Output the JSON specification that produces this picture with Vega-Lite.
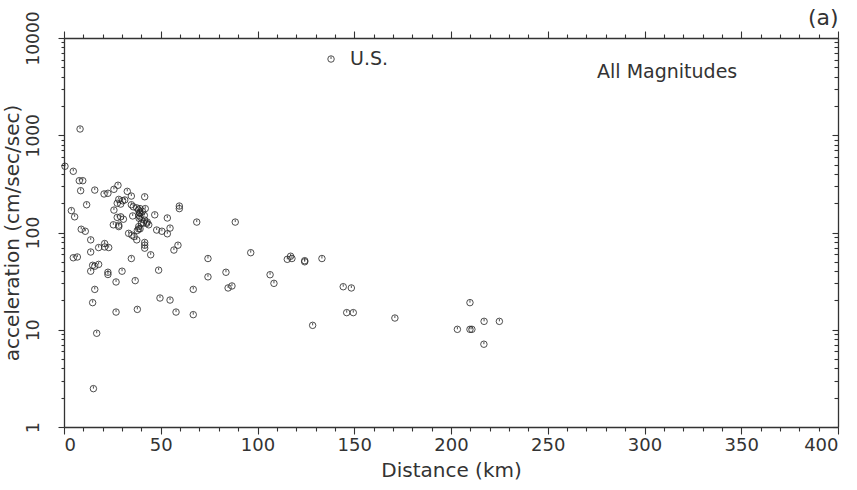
{
  "$schema": "https://vega.github.io/schema/vega-lite/v6.json",
  "width": 774,
  "height": 389,
  "autosize": {"type": "none"},
  "padding": {"left": 64, "top": 38, "right": 19, "bottom": 63},
  "background": "white",
  "config": {
    "view": {"stroke": null},
    "font": "DejaVu Sans",
    "axis": {"domainColor": "#333", "tickColor": "#333", "labelColor": "#333", "titleColor": "#333", "grid": false, "labelFont": "DejaVu Sans", "titleFont": "DejaVu Sans", "titleFontWeight": "normal", "domainWidth": 1.3, "tickWidth": 1.1, "ticks": true}
  },
  "datasets": {
    "pts": [
      {"d":138,"a":6080},{"d":8.3,"a":1160},{"d":0.5,"a":480},{"d":4.8,"a":426},{"d":7.9,"a":341},{"d":9.7,"a":341},
      {"d":8.6,"a":269},{"d":15.9,"a":273},{"d":20.7,"a":249},{"d":22.7,"a":253},{"d":25.8,"a":278},{"d":27.9,"a":306},
      {"d":32.7,"a":265},{"d":34.8,"a":237},{"d":41.7,"a":233},{"d":28.3,"a":219},{"d":30.3,"a":212},{"d":31.4,"a":216},
      {"d":27.5,"a":200},{"d":29.3,"a":196},{"d":34.8,"a":193},{"d":35.8,"a":184},{"d":37.6,"a":179},{"d":39.3,"a":176},
      {"d":39.3,"a":157},{"d":38.7,"a":150},{"d":39.3,"a":145},{"d":42,"a":176},{"d":59.6,"a":187},{"d":59.6,"a":176},
      {"d":3.8,"a":168},{"d":5.5,"a":145},{"d":11.7,"a":193},{"d":25.8,"a":170},{"d":27.5,"a":143},{"d":29.3,"a":145},
      {"d":30.7,"a":137},{"d":35.5,"a":148},{"d":46.9,"a":152},{"d":53.4,"a":141},{"d":68.6,"a":128},{"d":41.7,"a":134},
      {"d":42.7,"a":124},{"d":40,"a":125},{"d":41,"a":125},{"d":28.3,"a":119},{"d":28.3,"a":115},{"d":25.5,"a":120},
      {"d":38.6,"a":109},{"d":38.6,"a":115},{"d":43.8,"a":120},{"d":33.4,"a":98},{"d":35.1,"a":94},{"d":36.2,"a":91},
      {"d":37.9,"a":105},{"d":39.3,"a":109},{"d":47.9,"a":106},{"d":50.6,"a":103},{"d":53.4,"a":97},{"d":54.8,"a":111},
      {"d":37.6,"a":84},{"d":8.9,"a":108},{"d":11,"a":103},{"d":13.8,"a":84},{"d":41.7,"a":79},{"d":41.7,"a":74},
      {"d":41.7,"a":69},{"d":44.8,"a":59},{"d":58.9,"a":74},{"d":56.8,"a":66},{"d":17.9,"a":70},{"d":21,"a":77},
      {"d":21,"a":71},{"d":23.1,"a":70},{"d":13.8,"a":63},{"d":4.8,"a":55},{"d":6.9,"a":56},{"d":34.8,"a":54},
      {"d":74.4,"a":54},{"d":14.8,"a":46},{"d":15.9,"a":45},{"d":17.9,"a":47},{"d":13.8,"a":40},{"d":22.7,"a":39},
      {"d":22.7,"a":37},{"d":30,"a":40},{"d":48.9,"a":41},{"d":74.4,"a":35},{"d":26.9,"a":31},{"d":36.8,"a":32},
      {"d":15.9,"a":26},{"d":66.8,"a":26},{"d":14.8,"a":19},{"d":26.9,"a":15.2},{"d":37.9,"a":16.2},{"d":49.6,"a":21.2},
      {"d":54.8,"a":20.2},{"d":57.9,"a":15.2},{"d":66.8,"a":14.3},{"d":16.9,"a":9.2},{"d":15.2,"a":2.48},{"d":88.5,"a":128},
      {"d":96.5,"a":62},{"d":83.7,"a":39},{"d":84.8,"a":26.9},{"d":86.8,"a":28.2},{"d":106.5,"a":36.8},{"d":108.5,"a":30},
      {"d":115.4,"a":53},{"d":117.1,"a":57},{"d":117.8,"a":54},{"d":124.4,"a":51.3},{"d":124.4,"a":50},{"d":133.3,"a":54},
      {"d":144.3,"a":27.7},{"d":148.5,"a":26.9},{"d":146.1,"a":15},{"d":149.5,"a":15},{"d":128.5,"a":11.1},{"d":171,"a":13.2},
      {"d":203.3,"a":10.1},{"d":209.8,"a":10.1},{"d":210.8,"a":10.1},{"d":209.8,"a":19},{"d":217.1,"a":12.2},{"d":225,"a":12.2},
      {"d":217,"a":7.1},{"d":38.5,"a":170},{"d":39,"a":160},{"d":38.8,"a":140},{"d":40.5,"a":165},{"d":41.5,"a":150},{"d":43,"a":128}
    ],
    "notes": [
      {"d":147.8,"a":6100,"t":"U.S.","s":19},
      {"d":275.5,"a":4470,"t":"All Magnitudes","s":19},
      {"d":384.5,"a":16000,"t":"(a)","s":22}
    ]
  },
  "layer": [
    {
      "data": {"name": "pts"},
      "mark": {"type": "point", "shape": "circle", "filled": false, "size": 42, "stroke": "#222", "strokeWidth": 0.8, "opacity": 1},
      "encoding": {
        "x": {"field": "d", "type": "quantitative", "scale": {"domain": [0, 400], "nice": false, "zero": false},
          "axis": {"orient": "bottom", "title": "Distance (km)", "titleFontSize": 20, "titlePadding": 6,
            "values": [0,10,20,30,40,50,60,70,80,90,100,110,120,130,140,150,160,170,180,190,200,210,220,230,240,250,260,270,280,290,300,310,320,330,340,350,360,370,380,390,400],
            "labelExpr": "datum.value % 50 == 0 ? datum.label : ''", "labelFontSize": 18, "labelPadding": 2,
            "tickSize": {"condition": {"test": "datum.value % 50 == 0", "value": 7}, "value": 4}}},
        "y": {"field": "a", "type": "quantitative", "scale": {"type": "log", "domain": [1, 10000], "nice": false},
          "axis": {"orient": "left", "title": "acceleration (cm/sec/sec)", "titleFontSize": 20, "titlePadding": 2,
            "values": [1,2,3,4,5,6,7,8,9,10,20,30,40,50,60,70,80,90,100,200,300,400,500,600,700,800,900,1000,2000,3000,4000,5000,6000,7000,8000,9000,10000],
            "labelExpr": "indexof([1,10,100,1000,10000], datum.value) >= 0 ? format(datum.value, 'd') : ''",
            "labelAngle": 270, "labelFontSize": 17, "labelPadding": 16,
            "tickSize": {"condition": {"test": "indexof([1,10,100,1000,10000], datum.value) >= 0", "value": 6}, "value": 3}}}
      }
    },
    {
      "data": {"name": "pts"},
      "mark": {"type": "point", "shape": "M0,-0.75L0,0", "filled": false, "size": 42, "stroke": "#222", "strokeWidth": 0.8, "opacity": 1},
      "encoding": {
        "x": {"field": "d", "type": "quantitative", "axis": null},
        "y": {"field": "a", "type": "quantitative", "axis": null}
      }
    },
    {
      "data": {"name": "notes"},
      "mark": {"type": "text", "color": "#333", "baseline": "middle", "align": "left", "font": "DejaVu Sans"},
      "encoding": {
        "x": {"field": "d", "type": "quantitative",
          "axis": {"orient": "top", "title": null, "labels": false,
            "values": [0,10,20,30,40,50,60,70,80,90,100,110,120,130,140,150,160,170,180,190,200,210,220,230,240,250,260,270,280,290,300,310,320,330,340,350,360,370,380,390,400],
            "tickSize": {"condition": {"test": "datum.value % 50 == 0", "value": 7}, "value": 4}}},
        "y": {"field": "a", "type": "quantitative",
          "axis": {"orient": "right", "title": null, "labels": false,
            "values": [1,2,3,4,5,6,7,8,9,10,20,30,40,50,60,70,80,90,100,200,300,400,500,600,700,800,900,1000,2000,3000,4000,5000,6000,7000,8000,9000,10000],
            "tickSize": {"condition": {"test": "indexof([1,10,100,1000,10000], datum.value) >= 0", "value": -6}, "value": -4}}},
        "text": {"field": "t"},
        "size": {"field": "s", "type": "quantitative", "scale": null}
      }
    }
  ],
  "resolve": {"axis": {"x": "independent", "y": "independent"}}
}
